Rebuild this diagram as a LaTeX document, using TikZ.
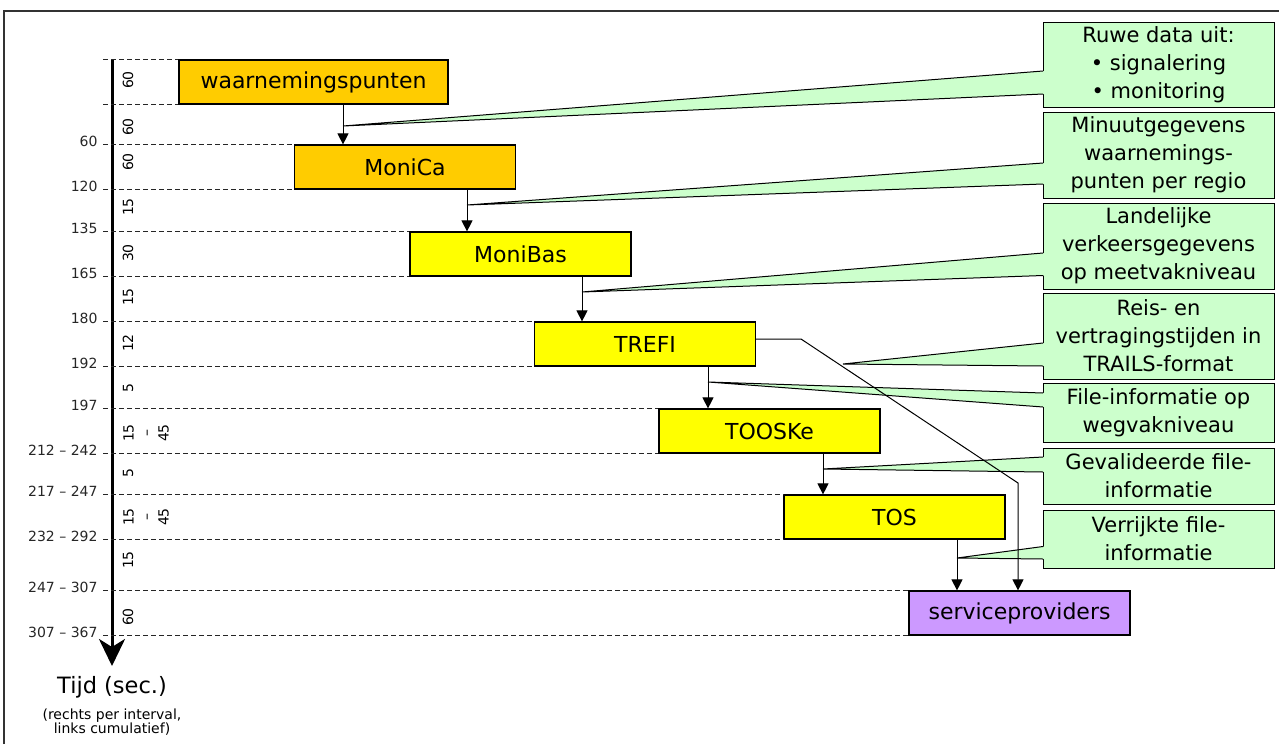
\documentclass[tikz,border=0pt]{standalone}
\usepackage{fontspec}
\setmainfont{DejaVu Sans}
\usepackage{xcolor}
\usetikzlibrary{arrows.meta}

\definecolor{orangebox}{HTML}{FFCC00}
\definecolor{yellowbox}{HTML}{FFFF00}
\definecolor{purplebox}{HTML}{CC99FF}
\definecolor{greenbox}{HTML}{CCFFCC}

\tikzset{
  sysbox/.style={draw, line width=1.2pt, minimum width=221pt, minimum height=44pt,
    inner sep=0pt, font=\fontsize{22}{26}\selectfont},
  infobox/.style={draw, line width=1pt, fill=greenbox, anchor=north west,
    minimum width=231pt, inner sep=0pt, outer sep=0pt, align=center,
    font=\fontsize{21}{28}\selectfont},
  flow/.style={line width=1pt, -{Triangle[length=11pt,width=11pt]}},
  gridline/.style={dash pattern=on 5pt off 3pt, line width=1pt, black!85},
  cumlabel/.style={anchor=east, xshift=-5pt, yshift=3pt, inner sep=0pt,
    font=\fontsize{14}{16}\selectfont},
  intlabel/.style={rotate=90, align=center, inner sep=0pt,
    font=\fontsize{14}{17.5}\selectfont}
}

\begin{document}
\begin{tikzpicture}[x=1pt, y=-1pt]
\useasboundingbox (0,0) rectangle (1279,744);

% frame
\draw[line width=1.5pt, black!80] (4,744) -- (4,11) -- (1279,11);

% systems
\node[sysbox, fill=orangebox, minimum width=269pt] (wp) at (313.5,82) {waarnemingspunten};
\node[sysbox, fill=orangebox] (monica) at (405,167) {MoniCa};
\node[sysbox, fill=yellowbox] (monibas) at (520.5,254) {MoniBas};
\node[sysbox, fill=yellowbox] (trefi) at (645,344) {TREFI};
\node[sysbox, fill=yellowbox] (tooske) at (769.5,431) {TOOSKe};
\node[sysbox, fill=yellowbox] (tos) at (894.5,517) {TOS};
\node[sysbox, fill=purplebox] (sp) at (1019.5,613) {serviceproviders};

% time axis
\coordinate (axtop) at (112,59);
\coordinate (axend) at (112,666);
\draw[line width=3pt, -{Stealth[length=27pt,width=26pt,inset=8pt]}] (axtop) -- (axend);
\node[font=\fontsize{22.5}{26}\selectfont] (tijd) at (112,687) {Tijd (sec.)};
\node[align=center, font=\fontsize{14}{13.5}\selectfont] (tijdnote) at (112,722)
  {(rechts per interval,\\links cumulatief)};

% dashed levels with cumulative times
\coordinate (tk) at (103,0);
\draw[gridline] (wp.north west -| tk) -- (wp.north west);
\draw[gridline] (wp.south west -| tk) -- (wp.south west);
\foreach \b/\ta/\tb in {monica/60/120, monibas/135/165, trefi/180/192,
    tooske/197/212 – 242, tos/217 – 247/232 – 292, sp/247 – 307/307 – 367}{
  \draw[gridline] (\b.north west -| tk) node[cumlabel]{\ta} -- (\b.north west);
  \draw[gridline] (\b.south west -| tk) node[cumlabel]{\tb} -- (\b.south west);
}

% interval times
\foreach \y/\x/\t in {80/128/60, 127/128/60, 162/128/60, 207/128/15, 253/128/30,
    297/128/15, 343/128/12, 388/128/5, 433/146/{15\\–\\45}, 473/128/5,
    517/146/{15\\–\\45}, 560/128/15, 617/128/60}
  \node[intlabel] (iv\y) at (\x,\y) {\t};

% information callouts
\node[infobox, minimum height=85pt] (c1) at (1043,22) {Ruwe data uit:\\• signalering\\• monitoring};
\node[infobox, minimum height=86pt] (c2) at (1043,112) {Minuutgegevens\\waarnemings-\\punten per regio};
\node[infobox, minimum height=86pt] (c3) at (1043,203) {Landelijke\\verkeersgegevens\\op meetvakniveau};
\node[infobox, minimum height=86pt] (c4) at (1043,293) {Reis- en\\vertragingstijden in\\TRAILS-format};
\node[infobox, minimum height=59pt] (c5) at (1043,383) {File-informatie op\\wegvakniveau};
\node[infobox, minimum height=56pt] (c6) at (1043,448) {Gevalideerde file-\\informatie};
\node[infobox, minimum height=58pt] (c7) at (1043,510) {Verrijkte file-\\informatie};

\coordinate (p1) at (343,126);
\coordinate (p2) at (467,205);
\coordinate (p3) at (582,292);
\coordinate (p4) at (843,364);
\coordinate (p5) at (708,382);
\coordinate (p6) at (823,469);
\coordinate (p7) at (957,558);
\coordinate (k1) at (801,339);
\coordinate (k2) at (1018,483);

\foreach \c/\p/\ya/\yb in {c1/p1/49/72, c2/p2/51/72, c3/p3/50/72.5, c4/p4/50/73,
    c5/p5/10/24, c6/p6/9/24, c7/p7/36.5/49}{
  \fill[greenbox] ([xshift=1pt,yshift=-\ya pt]\c.north west) -- (\p)
    -- ([xshift=1pt,yshift=-\yb pt]\c.north west) -- cycle;
  \draw[line width=1pt] ([yshift=-\ya pt]\c.north west) -- (\p)
    -- ([yshift=-\yb pt]\c.north west);
}

% data flow
\draw[flow] (wp.south -| p1) -- (monica.north -| p1);
\draw[flow] (monica.south -| p2) -- (monibas.north -| p2);
\draw[flow] (monibas.south -| p3) -- (trefi.north -| p3);
\draw[flow] (trefi.south -| p5) -- (tooske.north -| p5);
\draw[flow] (tooske.south -| p6) -- (tos.north -| p6);
\draw[flow] (tos.south -| p7) -- (sp.north -| p7);
\draw[flow] ([yshift=5pt]trefi.east) -- (k1) -- (k2) -- (sp.north -| k2);

\end{tikzpicture}
\end{document}
